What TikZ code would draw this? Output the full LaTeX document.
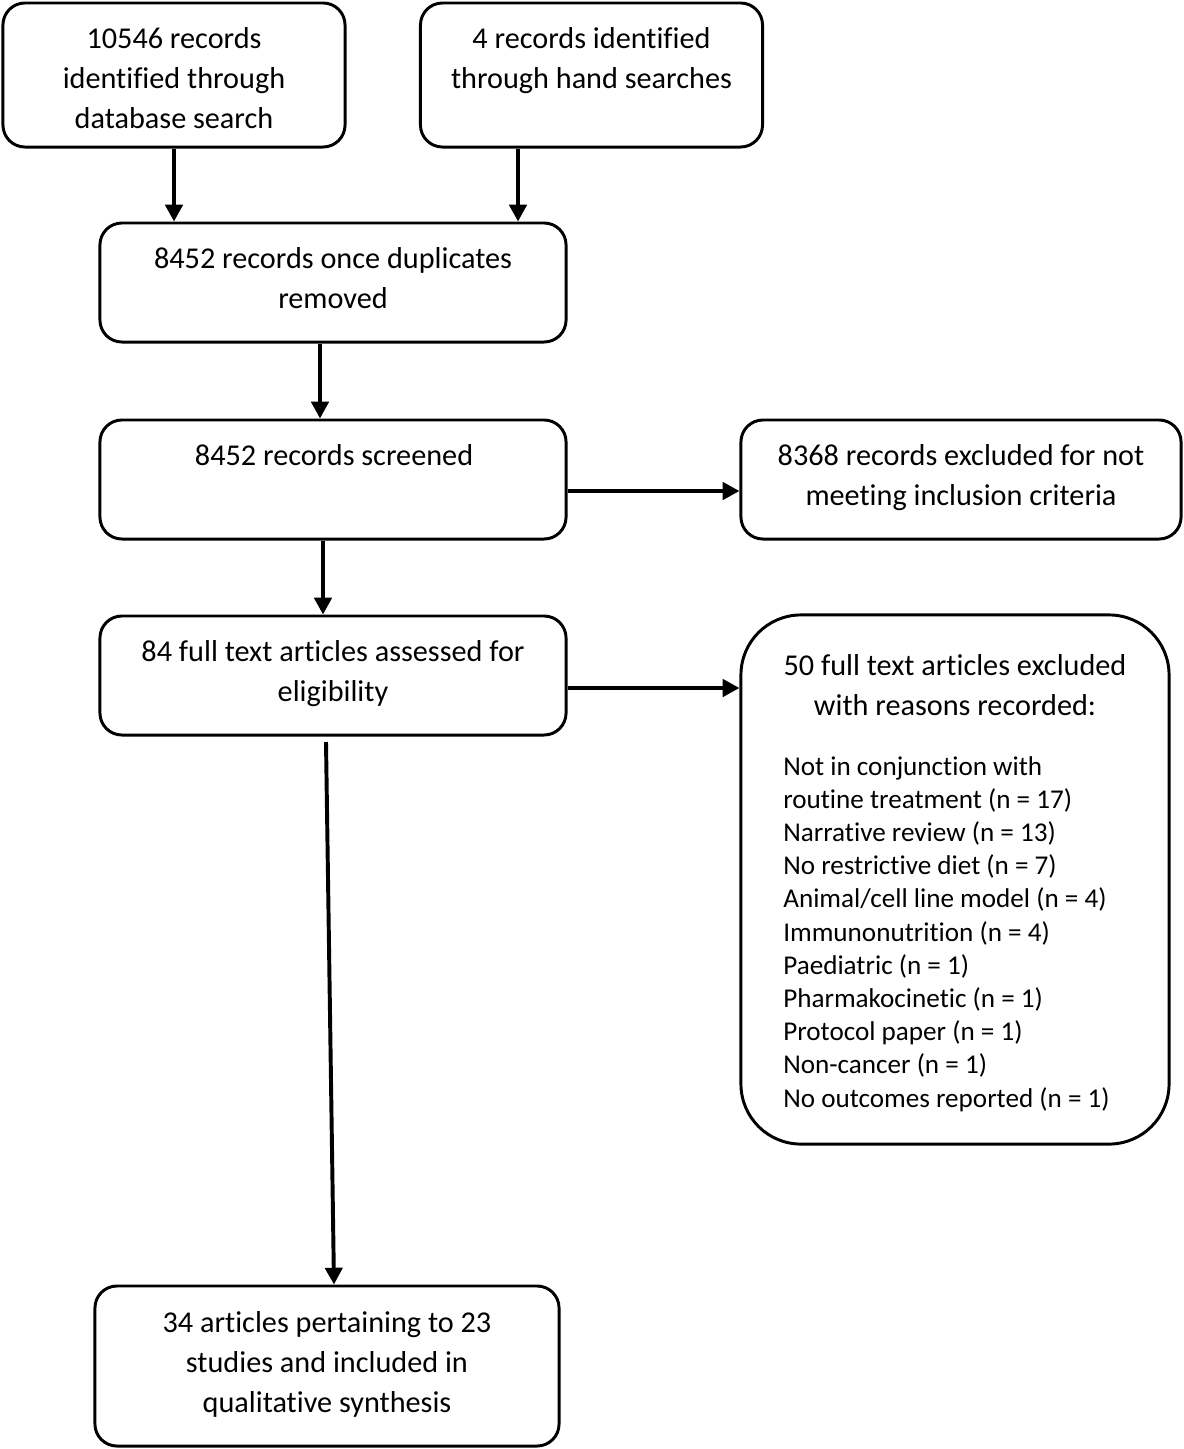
\documentclass[tikz,border=0pt]{standalone}
\usepackage{fontspec}
\setmainfont{Carlito}[Ligatures=NoCommon]
\usetikzlibrary{arrows.meta}

\newcommand{\flowfont}{\fontsize{21.5}{28.45}\selectfont}
\newcommand{\listfont}{\fontsize{19.3}{23.6}\selectfont}

\tikzset{
  box/.style={draw, line width=2.1pt, rounded corners=0.55cm, inner sep=0pt},
  txt/.style={anchor=north, align=center, inner sep=0pt, font=\flowfont},
  arr/.style={line width=2.8pt, -{Triangle[length=0.42cm,width=0.43cm]}}
}

\begin{document}
\begin{tikzpicture}[x=0.025cm, y=-0.025cm]
\useasboundingbox (0,0) rectangle (1184,1449);

% boxes
\node[box, minimum width=8.55cm, minimum height=3.6cm] (a) at (174,75) {};
\node[box, minimum width=8.55cm, minimum height=3.6cm] (b) at (591.5,75) {};
\node[box, minimum width=11.65cm, minimum height=2.975cm] (c) at (333,282.5) {};
\node[box, minimum width=11.65cm, minimum height=2.975cm] (d) at (333,479.5) {};
\node[box, minimum width=11cm, minimum height=2.975cm] (e) at (961,479.5) {};
\node[box, minimum width=11.65cm, minimum height=2.975cm] (f) at (333,675.5) {};
\node[box, rounded corners=1.5cm, minimum width=10.7cm, minimum height=13.225cm] (g) at (955,879.5) {};
\node[box, minimum width=11.6cm, minimum height=4cm] (h) at (327,1366) {};

% texts
\node[txt] (ta) at (174,27) {10546 records\\identified through\\database search};
\node[txt] (tb) at (591.5,27) {4 records identified\\through hand searches};
\node[txt] (tc) at (333,247) {8452 records once duplicates\\removed};
\node[txt] (td) at (334,444) {8452 records screened};
\node[txt] (te) at (961,444) {8368 records excluded for not\\meeting inclusion criteria};
\node[txt] (tf) at (333,640) {84 full text articles assessed for\\eligibility};
\node[txt] (tg) at (955,654) {50 full text articles excluded\\with reasons recorded:};
\node[txt, anchor=north west, align=left, font=\listfont] (tl) at (783,756) {%
Not in conjunction with\\
routine treatment (n = 17)\\
Narrative review (n = 13)\\
No restrictive diet (n = 7)\\
Animal/cell line model (n = 4)\\
Immunonutrition (n = 4)\\
Paediatric (n = 1)\\
Pharmakocinetic (n = 1)\\
Protocol paper (n = 1)\\
Non-cancer (n = 1)\\
No outcomes reported (n = 1)};
\node[txt] (th) at (327,1311) {34 articles pertaining to 23\\studies and included in\\qualitative synthesis};

% connectors
\coordinate (bx) at (518,0);
\coordinate (cx) at (320,0);
\coordinate (dx) at (323,0);
\coordinate (dy) at (0,491);
\coordinate (fy) at (0,688);
\coordinate (fh) at (326,742);
\coordinate (hx) at (334,0);
\draw[arr] (a.south) -- (c.north -| a.south);
\draw[arr] (b.south -| bx) -- (c.north -| bx);
\draw[arr] (c.south -| cx) -- (d.north -| cx);
\draw[arr] (d.east |- dy) -- (e.west |- dy);
\draw[arr] (d.south -| dx) -- (f.north -| dx);
\draw[arr] (f.east |- fy) -- (g.west |- fy);
\draw[arr] (fh) -- (h.north -| hx);
\end{tikzpicture}
\end{document}
